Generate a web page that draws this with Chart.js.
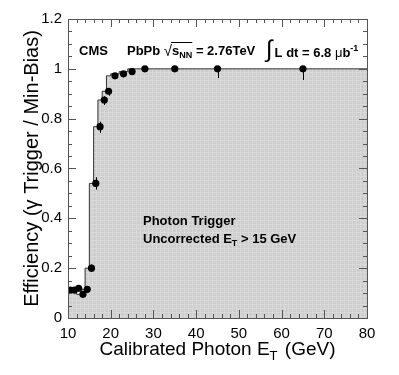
<!DOCTYPE html>
<html>
<head>
<meta charset="utf-8">
<script src="https://cdn.jsdelivr.net/npm/chart.js@4"></script>
<style>
  html, body { margin: 0; padding: 0; background: #fff; }
  #c { display: block; }
</style>
</head>
<body>
<canvas id="c" width="399" height="375"></canvas>
<script>
// Bin edges (GeV) and trigger efficiency per bin
const binEdges = [10, 11, 12, 13, 14, 15, 16, 17, 18, 19, 20, 22, 24, 26, 30, 40, 50, 80];
const binCenters = [10.5, 11.5, 12.5, 13.5, 14.5, 15.5, 16.5, 17.5, 18.5, 19.5, 21, 23, 25, 28, 35, 45, 65];
const efficiency = [0.112, 0.112, 0.119, 0.095, 0.115, 0.20, 0.54, 0.768, 0.875, 0.91, 0.972, 0.98, 0.989, 1.0, 1.0, 1.0, 1.0];
const errLow = [0.008, 0.008, 0.008, 0.008, 0.008, 0.015, 0.025, 0.025, 0.02, 0.018, 0.012, 0.01, 0.01, 0.005, 0.01, 0.037, 0.045];
const errHigh = [0.008, 0.008, 0.008, 0.008, 0.008, 0.015, 0.025, 0.02, 0.015, 0.012, 0.008, 0.006, 0.005, 0, 0, 0, 0];
const xTicks = [10, 20, 30, 40, 50, 60, 70, 80];
const yTicks = [0, 0.2, 0.4, 0.6, 0.8, 1, 1.2];

const FONT = "'Liberation Sans', Arial, Helvetica, sans-serif";

// step outline: one point per lower bin edge, last point closes the final bin
const stepData = binEdges.map((e, i) => ({ x: e, y: efficiency[Math.min(i, efficiency.length - 1)] }));
const pointData = binCenters.map((c, i) => ({ x: c, y: efficiency[i] }));

// light grey fill with a fine texture
function makePattern() {
  const p = document.createElement("canvas");
  p.width = 4; p.height = 4;
  const g = p.getContext("2d");
  g.fillStyle = "#cecece";
  g.fillRect(0, 0, 4, 4);
  g.fillStyle = "#d9d9d9";
  g.fillRect(0, 0, 4, 1);
  g.fillRect(0, 0, 1, 4);
  return g.createPattern(p, "repeat");
}

// draws a run of text pieces (sub/superscripts via dy)
function drawRich(ctx, x, y, parts) {
  ctx.save();
  ctx.textBaseline = "alphabetic";
  ctx.textAlign = "left";
  parts.forEach(p => {
    ctx.font = (p.bold ? "bold " : "") + p.size + "px " + FONT;
    ctx.fillText(p.t, x, y + (p.dy || 0));
    x += ctx.measureText(p.t).width + (p.gap || 0);
  });
  ctx.restore();
  return x;
}

function richWidth(ctx, parts) {
  let w = 0;
  parts.forEach(p => {
    ctx.font = (p.bold ? "bold " : "") + p.size + "px " + FONT;
    w += ctx.measureText(p.t).width + (p.gap || 0);
  });
  return w;
}

const errorBars = {
  id: "errorBars",
  afterDatasetsDraw(chart) {
    const { ctx, scales: { x, y } } = chart;
    ctx.save();
    ctx.strokeStyle = "#000";
    ctx.lineWidth = 1;
    binCenters.forEach((c, i) => {
      const px = Math.round(x.getPixelForValue(c)) + 0.5;
      ctx.beginPath();
      ctx.moveTo(px, y.getPixelForValue(efficiency[i] - errLow[i]));
      ctx.lineTo(px, y.getPixelForValue(efficiency[i] + errHigh[i]));
      ctx.stroke();
    });
    ctx.restore();
  }
};

// ROOT-like frame with inward ticks on all four sides
const frame = {
  id: "frame",
  afterDatasetsDraw(chart) {
    const { ctx, chartArea: a, scales: { x, y } } = chart;
    ctx.save();
    ctx.strokeStyle = "#555";
    ctx.lineWidth = 1;
    ctx.strokeRect(Math.round(a.left) + 0.5, Math.round(a.top) + 0.5, Math.round(a.right - a.left), Math.round(a.bottom - a.top));
    ctx.beginPath();
    for (let v = 10; v <= 80; v += 2) {
      const px = Math.round(x.getPixelForValue(v)) + 0.5;
      const len = v % 10 === 0 ? 8 : 4;
      ctx.moveTo(px, a.bottom); ctx.lineTo(px, a.bottom - len);
      ctx.moveTo(px, a.top); ctx.lineTo(px, a.top + len);
    }
    for (let k = 0; k <= 24; k++) {
      const py = Math.round(y.getPixelForValue(k * 0.05)) + 0.5;
      const len = k % 4 === 0 ? 8 : 4;
      ctx.moveTo(a.left, py); ctx.lineTo(a.left + len, py);
      ctx.moveTo(a.right, py); ctx.lineTo(a.right - len, py);
    }
    ctx.stroke();
    ctx.restore();
  }
};

const labels = {
  id: "labels",
  afterDraw(chart) {
    const { ctx, chartArea: a } = chart;
    ctx.fillStyle = "#000";

    // x axis title
    const xt = [
      { t: "Calibrated Photon E", size: 19 },
      { t: "T", size: 13, dy: 5, gap: 2 },
      { t: " (GeV)", size: 19 }
    ];
    const cx = (a.left + a.right) / 2;
    drawRich(ctx, cx - richWidth(ctx, xt) / 2, 355, xt);

    // y axis title
    ctx.save();
    ctx.translate(38, (a.top + a.bottom) / 2);
    ctx.rotate(-Math.PI / 2);
    ctx.font = "20px " + FONT;
    ctx.textAlign = "center";
    ctx.fillText("Efficiency (\u03b3 Trigger / Min-Bias)", 0, 0);
    ctx.restore();

    // header
    drawRich(ctx, 79, 55, [{ t: "CMS", size: 13, bold: true }]);
    let px = drawRich(ctx, 127, 55, [{ t: "PbPb ", size: 13, bold: true }]);
    px = drawRich(ctx, px, 56, [{ t: "\u221a", size: 15 }]);
    const sStart = px;
    px = drawRich(ctx, px, 55, [
      { t: "s", size: 13, bold: true },
      { t: "NN", size: 9, bold: true, dy: 3 }
    ]);
    ctx.save();
    ctx.strokeStyle = "#000";
    ctx.beginPath();
    ctx.moveTo(sStart - 1, 42.5); ctx.lineTo(px, 42.5);
    ctx.stroke();
    ctx.restore();
    drawRich(ctx, px, 55, [{ t: " = 2.76TeV", size: 13, bold: true }]);

    drawRich(ctx, 266, 57, [
      { t: "\u222b", size: 24, gap: 2 },
      { t: "L dt = 6.8 ", size: 13, bold: true },
      { t: "\u03bc", size: 13 },
      { t: "b", size: 13, bold: true },
      { t: "-1", size: 9, bold: true, dy: -6 }
    ]);

    // selection text
    drawRich(ctx, 143, 225, [{ t: "Photon Trigger", size: 13, bold: true }]);
    drawRich(ctx, 143, 243, [
      { t: "Uncorrected E", size: 13, bold: true },
      { t: "T", size: 9, bold: true, dy: 3 },
      { t: " > 15 GeV", size: 13, bold: true }
    ]);
  }
};

new Chart(document.getElementById("c"), {
  type: "scatter",
  data: {
    datasets: [
      {
        label: "Efficiency",
        data: pointData,
        showLine: false,
        pointRadius: 3.6,
        pointHoverRadius: 3.6,
        pointBackgroundColor: "#000",
        pointBorderColor: "#000",
        pointBorderWidth: 0
      },
      {
        label: "Histogram",
        data: stepData,
        showLine: true,
        stepped: "after",
        pointRadius: 0,
        borderColor: "#333",
        borderWidth: 1,
        backgroundColor: makePattern(),
        fill: "origin"
      }
    ]
  },
  options: {
    responsive: false,
    animation: false,
    events: [],
    layout: { padding: { left: 0, top: 19, right: 32, bottom: 0 } },
    plugins: {
      legend: { display: false },
      tooltip: { enabled: false }
    },
    scales: {
      x: {
        type: "linear",
        min: 10,
        max: 80,
        afterFit: s => { s.height = 57; },
        afterBuildTicks: s => { s.ticks = xTicks.map(v => ({ value: v })); },
        grid: { display: false, drawTicks: false },
        border: { display: false },
        ticks: { color: "#000", padding: 7, autoSkip: false, maxRotation: 0, font: { family: FONT, size: 15 } }
      },
      y: {
        type: "linear",
        min: 0,
        max: 1.2,
        afterFit: s => { s.width = 68; },
        afterBuildTicks: s => { s.ticks = yTicks.map(v => ({ value: v })); },
        grid: { display: false, drawTicks: false },
        border: { display: false },
        ticks: {
          color: "#000", padding: 6, autoSkip: false, font: { family: FONT, size: 15 },
          callback: v => String(Math.round(v * 10) / 10)
        }
      }
    }
  },
  plugins: [errorBars, frame, labels]
});
</script>
</body>
</html>
